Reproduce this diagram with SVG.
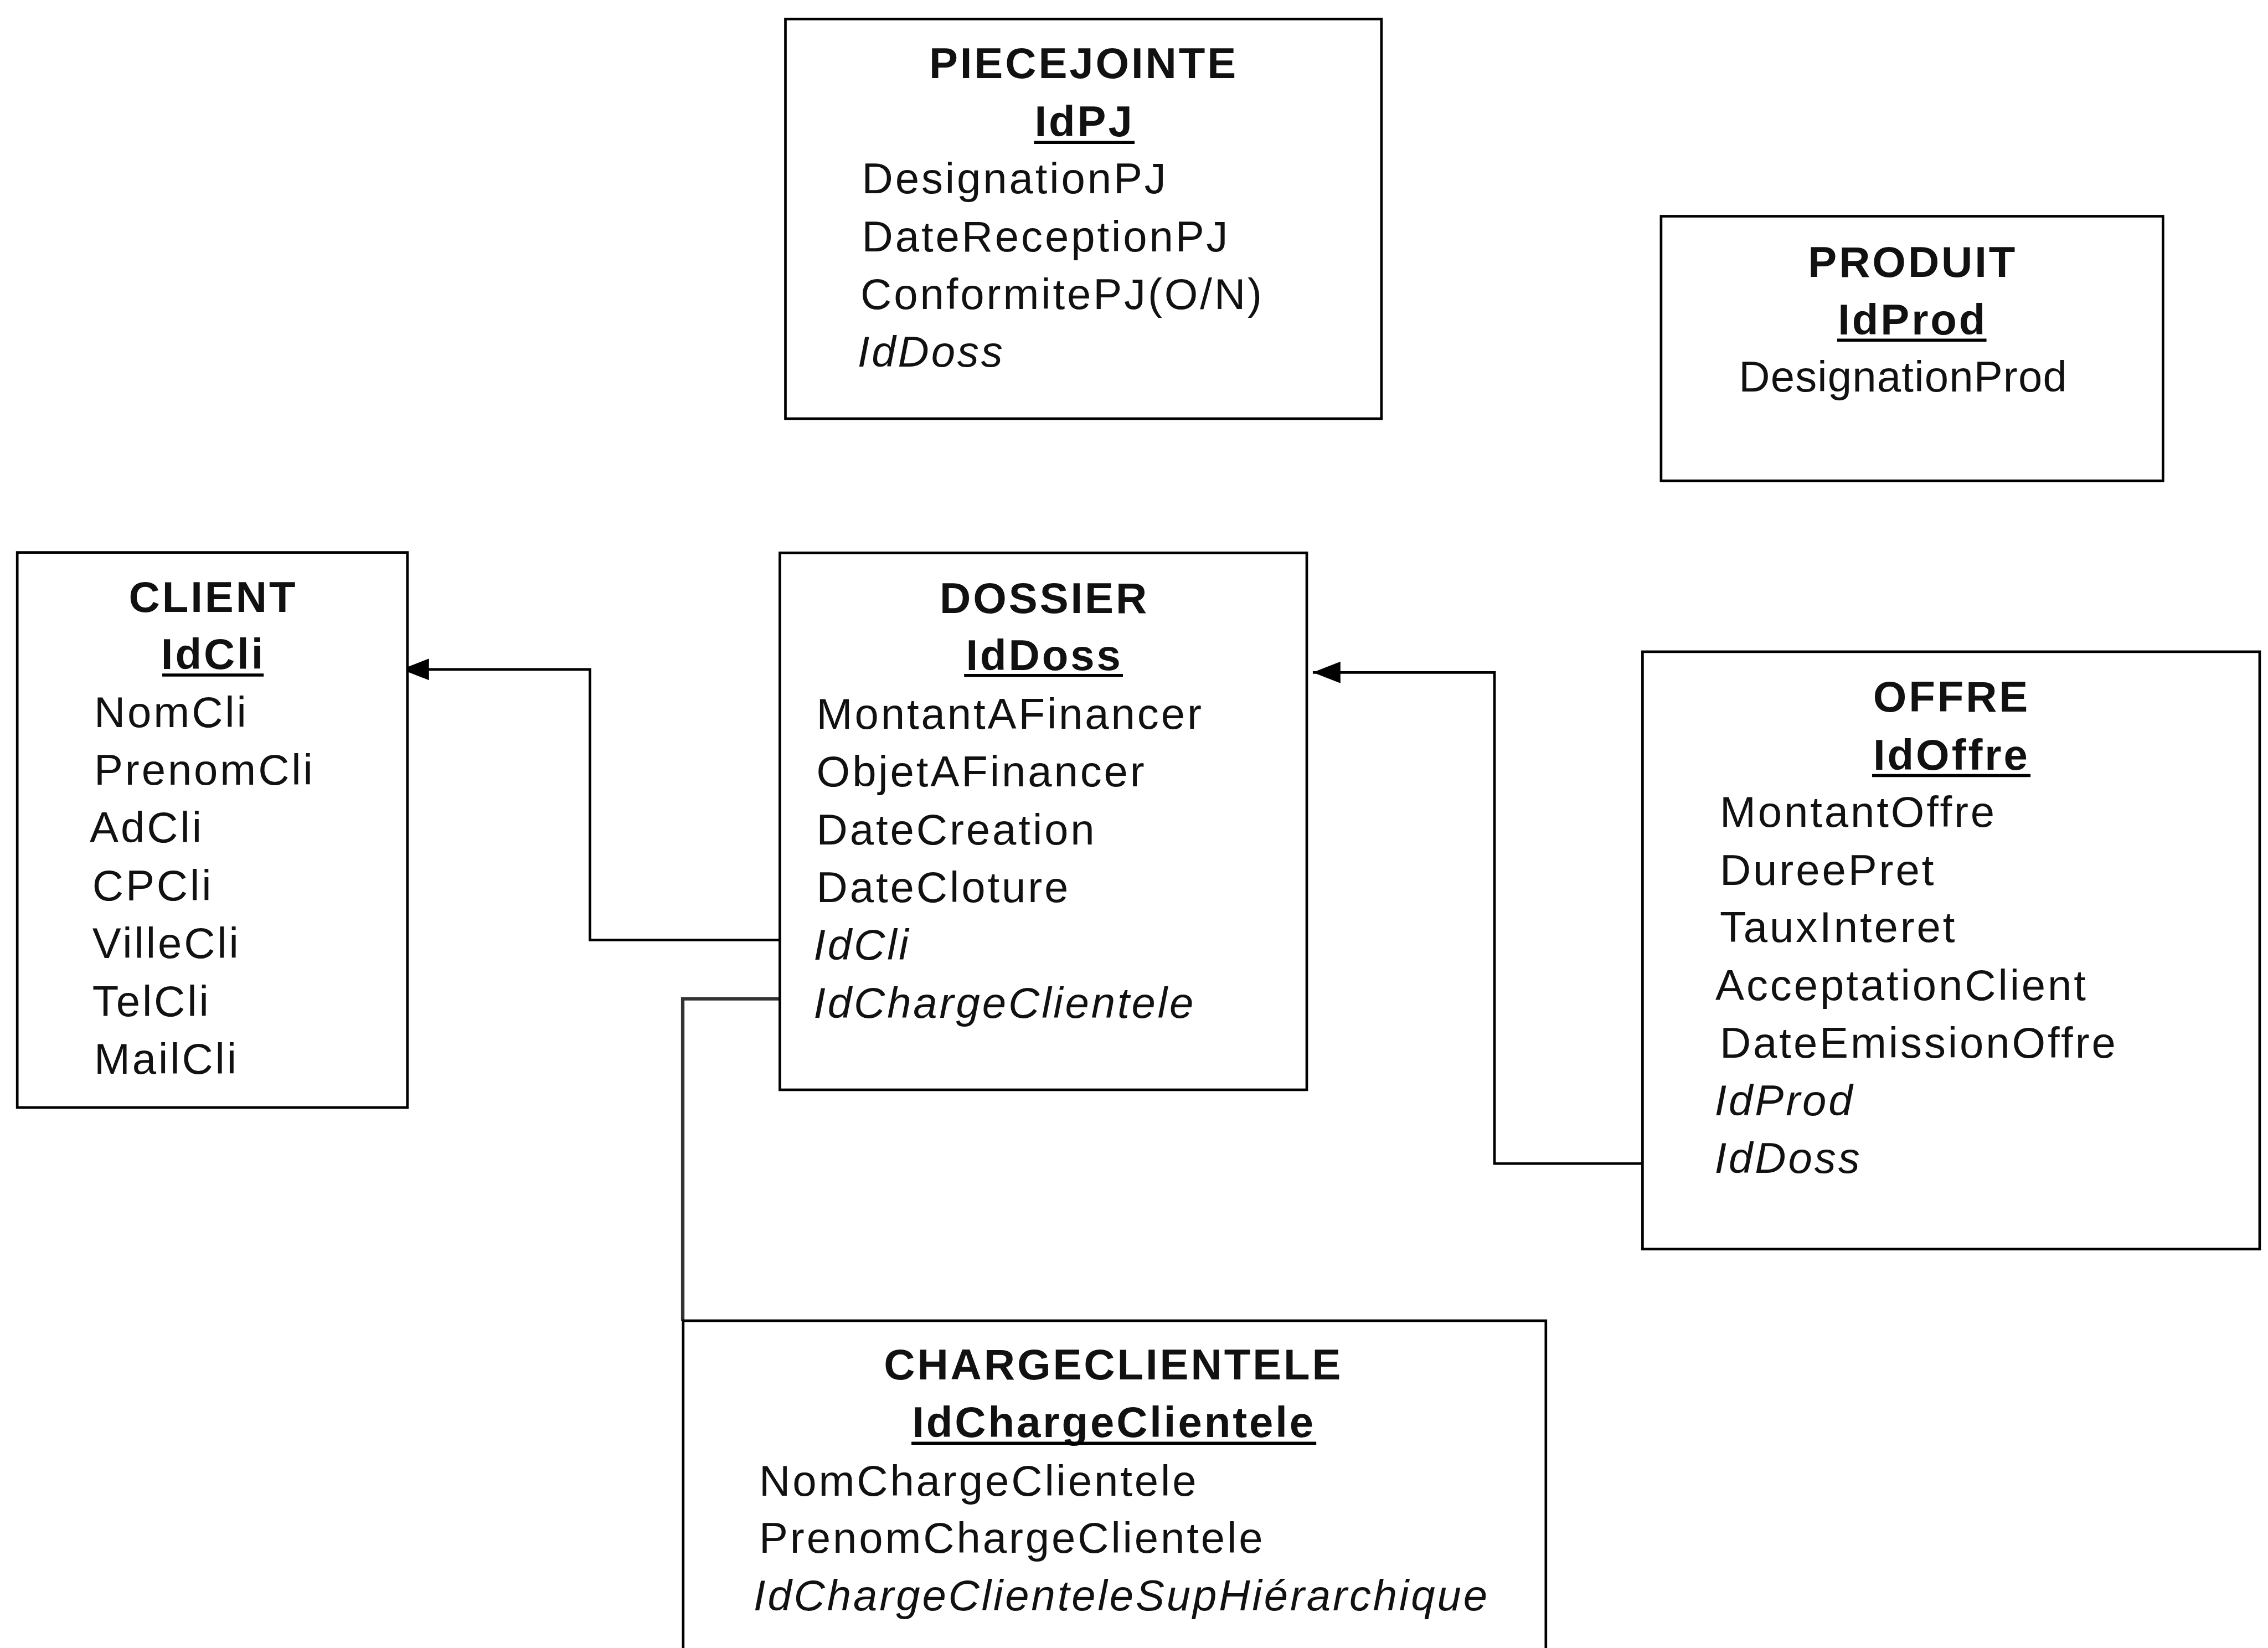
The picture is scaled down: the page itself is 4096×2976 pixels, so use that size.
<svg xmlns="http://www.w3.org/2000/svg" width="4096" height="2976" viewBox="0 0 4096 2976">
<style>
.box{fill:#fff;stroke:#000;stroke-width:6}
.t{font-family:"Liberation Sans",Arial,sans-serif;font-size:100px;letter-spacing:5px;fill:#111}
.title{font-weight:bold;text-anchor:middle}
.fk{font-style:italic}
.ul{stroke:#000;stroke-width:7}
.conn{fill:none;stroke:#000;stroke-width:6}
.conn2{fill:none;stroke:#333;stroke-width:8}
</style>
<defs>
<marker id="arrow" markerUnits="userSpaceOnUse" viewBox="-70 -30 75 60" refX="0" refY="0" markerWidth="75" markerHeight="60" orient="auto">
<path d="M0,0 L-64,-25 L-64,25 Z" fill="#000"/>
</marker>
</defs>
<rect x="0" y="0" width="4096" height="2976" fill="#fff"/>
<g transform="scale(0.7794)">
<g id="connectors">
<path class="conn" d="M1807,2178 H1367 V1551 H930" marker-end="url(#arrow)"/>
<path class="conn" d="M3808,2696 H3463 V1558 H3042" marker-end="url(#arrow)"/>
<path class="conn2" d="M1807,2314 H1582 V3060"/>
</g>
<g id="piecejointe">
<rect class="box" x="1820" y="44" width="1381" height="926"/>
<text class="t title" x="2511" y="181">PIECEJOINTE</text>
<text class="t title" x="2513" y="315">IdPJ</text>
<line class="ul" x1="2396" y1="330" x2="2629" y2="330"/>
<text class="t" x="1997" y="448">DesignationPJ</text>
<text class="t" x="1997" y="582">DateReceptionPJ</text>
<text class="t" x="1994" y="716">ConformitePJ(O/N)</text>
<text class="t fk" x="1987" y="850">IdDoss</text>
</g>
<g id="produit">
<rect class="box" x="3849" y="501" width="1163" height="613"/>
<text class="t title" x="4432" y="642">PRODUIT</text>
<text class="t title" x="4432" y="775">IdProd</text>
<line class="ul" x1="4257" y1="788" x2="4603" y2="788"/>
<text class="t" x="4029" y="907" style="letter-spacing:1.5px">DesignationProd</text>
</g>
<g id="client">
<rect class="box" x="40" y="1280" width="904" height="1286"/>
<text class="t title" x="494" y="1418">CLIENT</text>
<text class="t title" x="494" y="1550">IdCli</text>
<line class="ul" x1="376" y1="1564" x2="611" y2="1564"/>
<text class="t" x="218" y="1684">NomCli</text>
<text class="t" x="218" y="1818">PrenomCli</text>
<text class="t" x="208" y="1952">AdCli</text>
<text class="t" x="214" y="2086">CPCli</text>
<text class="t" x="214" y="2220">VilleCli</text>
<text class="t" x="214" y="2354">TelCli</text>
<text class="t" x="218" y="2488">MailCli</text>
</g>
<g id="dossier">
<rect class="box" x="1807" y="1281" width="1221" height="1244"/>
<text class="t title" x="2420" y="1420">DOSSIER</text>
<text class="t title" x="2420" y="1553">IdDoss</text>
<line class="ul" x1="2234" y1="1565" x2="2602" y2="1565"/>
<text class="t" x="1892" y="1688">MontantAFinancer</text>
<text class="t" x="1892" y="1822">ObjetAFinancer</text>
<text class="t" x="1892" y="1956">DateCreation</text>
<text class="t" x="1892" y="2090">DateCloture</text>
<text class="t fk" x="1885" y="2224">IdCli</text>
<text class="t fk" x="1885" y="2358">IdChargeClientele</text>
</g>
<g id="offre">
<rect class="box" x="3806" y="1510" width="1430" height="1384"/>
<text class="t title" x="4522" y="1649">OFFRE</text>
<text class="t title" x="4522" y="1783">IdOffre</text>
<line class="ul" x1="4338" y1="1797" x2="4705" y2="1797"/>
<text class="t" x="3985" y="1916">MontantOffre</text>
<text class="t" x="3985" y="2050">DureePret</text>
<text class="t" x="3985" y="2183">TauxInteret</text>
<text class="t" x="3975" y="2317">AcceptationClient</text>
<text class="t" x="3985" y="2450">DateEmissionOffre</text>
<text class="t fk" x="3973" y="2584">IdProd</text>
<text class="t fk" x="3973" y="2717">IdDoss</text>
</g>
<g id="chargeclientele">
<rect class="box" x="1583" y="3060" width="1999" height="900"/>
<text class="t title" x="2580" y="3196">CHARGECLIENTELE</text>
<text class="t title" x="2581" y="3330">IdChargeClientele</text>
<line class="ul" x1="2112" y1="3344" x2="3050" y2="3344"/>
<text class="t" x="1759" y="3465">NomChargeClientele</text>
<text class="t" x="1759" y="3598">PrenomChargeClientele</text>
<text class="t fk" x="1746" y="3731">IdChargeClienteleSupHiérarchique</text>
</g>
</g>
</svg>
